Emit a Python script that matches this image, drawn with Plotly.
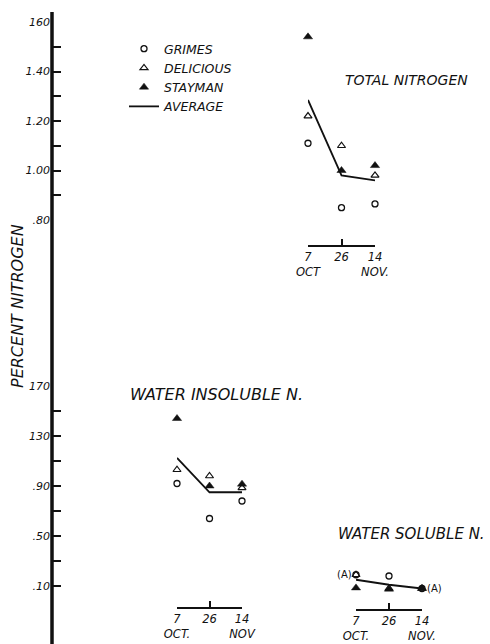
import plotly.graph_objects as go

W, H = 490, 644

# ---- data ----
days = [0, 19, 38]  # Oct 7, Oct 26, Nov 14
series_names = ["GRIMES", "DELICIOUS", "STAYMAN"]

total_grimes = [1.11, 0.85, 0.865]
total_delicious = [1.22, 1.10, 0.98]
total_stayman = [1.54, 1.00, 1.02]
total_average = [1.285, 0.98, 0.96]

insol_grimes = [0.92, 0.64, 0.78]
insol_delicious = [1.03, 0.98, 0.885]
insol_stayman = [1.44, 0.90, 0.915]
insol_average = [1.125, 0.85, 0.85]

sol_grimes = [0.19, 0.18, 0.08]
sol_delicious = [0.19, 0.08, 0.08]
sol_stayman = [0.085, 0.075, 0.08]
sol_average = [0.15, 0.11, 0.08]

upper_tickvals = [0.80, 1.00, 1.20, 1.40, 1.60]
upper_ticktext = [".80", "1.00", "1.20", "1.40", "160"]
upper_minor = [0.90, 1.10, 1.30, 1.50]
lower_tickvals = [0.10, 0.50, 0.90, 1.30, 1.70]
lower_ticktext = [".10", ".50", ".90", "130", "170"]
lower_minor = [0.30, 0.70, 1.10, 1.50]

date_text_total = ["7<br>OCT", "26", "14<br>NOV."]
date_text_insol = ["7<br>OCT.", "26", "14<br>NOV"]
date_text_sol = ["7<br>OCT.", "26", "14<br>NOV."]

FONT = "DejaVu Sans"
INK = "#111111"


def px_x(p):
    return p / W


def px_y(p):
    return 1 - p / H


fig = go.Figure()

marker_styles = {
    "GRIMES": dict(symbol="circle-open", size=6, line=dict(width=1.3, color=INK), color=INK),
    "DELICIOUS": dict(symbol="triangle-up-open", size=7, line=dict(width=1.2, color=INK), color=INK),
    "STAYMAN": dict(symbol="triangle-up", size=8, line=dict(width=0.5, color=INK), color=INK),
}

panels = [
    ("x", "y", [total_grimes, total_delicious, total_stayman], total_average, True),
    ("x2", "y2", [insol_grimes, insol_delicious, insol_stayman], insol_average, False),
    ("x3", "y2", [sol_grimes, sol_delicious, sol_stayman], sol_average, False),
]

for xa, ya, vals, avg, show in panels:
    for name, v in zip(series_names, vals):
        fig.add_trace(go.Scatter(
            x=days, y=v, mode="markers", name=name, legendgroup=name,
            showlegend=show, marker=marker_styles[name], xaxis=xa, yaxis=ya,
            cliponaxis=False,
        ))
    fig.add_trace(go.Scatter(
        x=days, y=avg, mode="lines", name="AVERAGE", legendgroup="AVERAGE",
        showlegend=show, line=dict(color=INK, width=1.8), xaxis=xa, yaxis=ya,
        cliponaxis=False,
    ))

tickfont = dict(family=FONT, size=11, color=INK, style="italic")

yax_common = dict(
    showgrid=False, zeroline=False, showline=False, ticks="inside", ticklen=8,
    tickwidth=1.5, tickcolor=INK, tickfont=tickfont, anchor="free",
    position=px_x(52), side="left", fixedrange=True, automargin=False,
    ticklabelstandoff=2,
)

xax_common = dict(
    range=[0, 38], showgrid=False, zeroline=False, showline=True, linecolor=INK,
    linewidth=1.5, ticks="inside", ticklen=6, tickwidth=1.5, tickcolor=INK,
    tickvals=days, tickfont=dict(family=FONT, size=11.5, color=INK, style="italic"),
    anchor="free", side="bottom", fixedrange=True, automargin=False,
)

fig.update_layout(
    width=W, height=H,
    margin=dict(l=0, r=0, t=0, b=0, pad=0, autoexpand=False),
    paper_bgcolor="white", plot_bgcolor="rgba(0,0,0,0)",
    showlegend=True,
    legend=dict(
        x=px_x(124), y=px_y(34), xanchor="left", yanchor="top",
        font=dict(family=FONT, size=12.5, color=INK, style="italic"),
        bgcolor="rgba(0,0,0,0)", itemwidth=30, tracegroupgap=0,
    ),
    yaxis=dict(**yax_common, domain=[px_y(220), px_y(22)], range=[0.80, 1.60],
               tickvals=upper_tickvals, ticktext=upper_ticktext,
               minor=dict(tickvals=upper_minor, ticks="inside", ticklen=8,
                          tickwidth=1.5, tickcolor=INK)),
    yaxis2=dict(**yax_common, domain=[px_y(611), px_y(386)], range=[-0.10, 1.70],
                tickvals=lower_tickvals, ticktext=lower_ticktext,
                minor=dict(tickvals=lower_minor, ticks="inside", ticklen=8,
                           tickwidth=1.5, tickcolor=INK)),
    xaxis=dict(**xax_common, domain=[px_x(308), px_x(375)], position=px_y(246),
               ticktext=date_text_total),
    xaxis2=dict(**xax_common, domain=[px_x(177), px_x(242)], position=px_y(608),
                ticktext=date_text_insol),
    xaxis3=dict(**xax_common, domain=[px_x(356), px_x(422)], position=px_y(610),
                ticktext=date_text_sol),
)

# long vertical axis spine
fig.add_shape(type="line", xref="paper", yref="paper",
              x0=px_x(52), x1=px_x(52), y0=px_y(12), y1=0,
              line=dict(color=INK, width=3.5))

titlefont = dict(family=FONT, color=INK, style="italic")
fig.add_annotation(text="TOTAL NITROGEN", xref="paper", yref="paper",
                   x=px_x(406), y=px_y(80), xanchor="center", yanchor="middle",
                   showarrow=False, font=dict(**titlefont, size=14))
fig.add_annotation(text="WATER INSOLUBLE N.", xref="paper", yref="paper",
                   x=px_x(216), y=px_y(394), xanchor="center", yanchor="middle",
                   showarrow=False, font=dict(**titlefont, size=16))
fig.add_annotation(text="WATER SOLUBLE N.", xref="paper", yref="paper",
                   x=px_x(411), y=px_y(534), xanchor="center", yanchor="middle",
                   showarrow=False, font=dict(**titlefont, size=15))
fig.add_annotation(text="PERCENT NITROGEN", xref="paper", yref="paper",
                   x=px_x(18), y=px_y(306), xanchor="center", yanchor="middle",
                   showarrow=False, textangle=-90, font=dict(**titlefont, size=16))

# "(A)" marks in the water-soluble panel
fig.add_annotation(text="(A)", xref="x3", yref="y2", x=days[0], y=sol_grimes[0],
                   xshift=-12, showarrow=False,
                   font=dict(family=FONT, size=10, color=INK))
fig.add_annotation(text="(A)", xref="x3", yref="y2", x=days[2], y=sol_delicious[2],
                   xshift=12, showarrow=False,
                   font=dict(family=FONT, size=10, color=INK))

fig.write_html("out.html")
